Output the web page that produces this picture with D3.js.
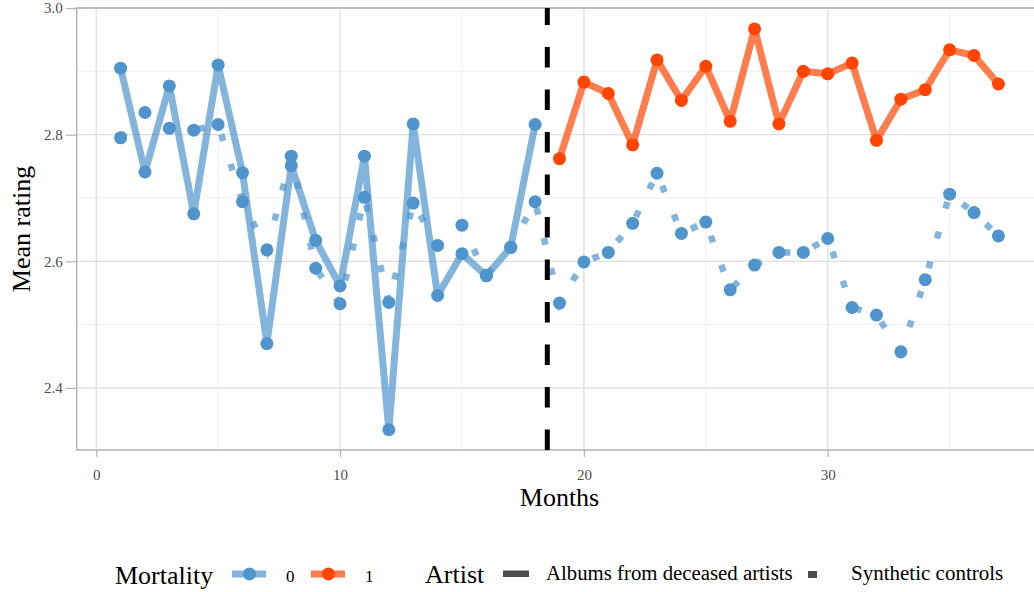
<!DOCTYPE html>
<html>
<head>
<meta charset="utf-8">
<script src="https://cdn.jsdelivr.net/npm/d3@7"></script>
<style>
  body { margin: 0; background: #fff; }
  svg text { font-family: "Liberation Serif", "DejaVu Serif", serif; }
</style>
</head>
<body>
<svg id="chart" width="1034" height="592"></svg>
<script>
// months before and after the death
var monthsPre = d3.range(1, 19);
var monthsPost = d3.range(19, 38);
var monthsAll = d3.range(1, 38);

// albums from deceased artists, before death (mortality 0)
var deceasedPre = [2.905, 2.741, 2.877, 2.675, 2.910, 2.740, 2.470, 2.751, 2.633,
                   2.561, 2.766, 2.334, 2.817, 2.546, 2.612, 2.577, 2.622, 2.816];
// albums from deceased artists, after death (mortality 1)
var deceasedPost = [2.762, 2.883, 2.865, 2.784, 2.918, 2.854, 2.908, 2.821, 2.967, 2.817,
                    2.900, 2.896, 2.913, 2.791, 2.856, 2.871, 2.934, 2.925, 2.880];
// synthetic controls
var synthetic = [2.795, 2.835, 2.810, 2.807, 2.816, 2.694, 2.618, 2.766, 2.589, 2.533,
                 2.701, 2.535, 2.692, 2.625, 2.657, 2.578, 2.622, 2.694, 2.534, 2.599,
                 2.614, 2.660, 2.739, 2.644, 2.662, 2.555, 2.594, 2.614, 2.614, 2.636,
                 2.527, 2.515, 2.457, 2.571, 2.706, 2.677, 2.640];

var xTicks = [0, 10, 20, 30];
var xMinor = [5, 15, 25, 35];
var yTicks = [2.4, 2.6, 2.8, 3.0];
var yMinor = [2.5, 2.7, 2.9];
var deathMonth = 18.5;

var mortalityLevels = ["0", "1"];
var artistLevels = ["Albums from deceased artists", "Synthetic controls"];

var blue = "#4F94CD", orange = "#FF4500";
var panel = {left: 76.7, right: 1042.3, top: 8, bottom: 450};

var svg = d3.select("#chart");

var x = d3.scaleLinear().domain([-0.8, 38.8]).range([panel.left, panel.right]);
var y = d3.scaleLinear().domain([2.302, 3.0]).range([panel.bottom, panel.top]);

var defs = svg.append("defs");
defs.append("clipPath").attr("id", "clip")
  .append("rect")
  .attr("x", panel.left).attr("y", panel.top)
  .attr("width", panel.right - panel.left).attr("height", panel.bottom - panel.top);

// grid
var grid = svg.append("g");
grid.selectAll(".xminor").data(xMinor).enter().append("line")
  .attr("x1", d => x(d)).attr("x2", d => x(d))
  .attr("y1", panel.top).attr("y2", panel.bottom)
  .attr("stroke", "#ebebeb").attr("stroke-width", 0.8);
grid.selectAll(".yminor").data(yMinor).enter().append("line")
  .attr("y1", d => y(d)).attr("y2", d => y(d))
  .attr("x1", panel.left).attr("x2", panel.right)
  .attr("stroke", "#ebebeb").attr("stroke-width", 0.8);
grid.selectAll(".xmajor").data(xTicks).enter().append("line")
  .attr("x1", d => x(d)).attr("x2", d => x(d))
  .attr("y1", panel.top).attr("y2", panel.bottom)
  .attr("stroke", "#dedede").attr("stroke-width", 1.3);
grid.selectAll(".ymajor").data(yTicks).enter().append("line")
  .attr("y1", d => y(d)).attr("y2", d => y(d))
  .attr("x1", panel.left).attr("x2", panel.right)
  .attr("stroke", "#dedede").attr("stroke-width", 1.3);

// axes
var xAxis = d3.axisBottom(x).tickValues(xTicks).tickSize(7).tickPadding(12).tickFormat(d3.format("d"));
var yAxis = d3.axisLeft(y).tickValues(yTicks).tickSize(11).tickPadding(3).tickFormat(d3.format(".1f"));

var gx = svg.append("g").attr("transform", "translate(0," + panel.bottom + ")").call(xAxis);
var gy = svg.append("g").attr("transform", "translate(" + panel.left + ",0)").call(yAxis);
[gx, gy].forEach(function(g) {
  g.select(".domain").remove();
  g.selectAll(".tick line").attr("stroke", "#b3b3b3").attr("stroke-width", 1.2);
  g.selectAll(".tick text").attr("fill", "#4d4d4d").style("font-size", "15px")
    .style("font-family", "'Liberation Serif', serif");
});

// panel border
svg.append("rect")
  .attr("x", panel.left).attr("y", panel.top)
  .attr("width", panel.right - panel.left).attr("height", panel.bottom - panel.top)
  .attr("fill", "none").attr("stroke", "#b3b3b3").attr("stroke-width", 1.5);

var plot = svg.append("g").attr("clip-path", "url(#clip)");

var line = d3.line().x(d => x(d[0])).y(d => y(d[1]));

var synthData = d3.zip(monthsAll, synthetic);
var prePts = d3.zip(monthsPre, deceasedPre);
var postPts = d3.zip(monthsPost, deceasedPost);

plot.append("path").datum(synthData)
  .attr("d", line).attr("fill", "none")
  .attr("stroke", blue).attr("stroke-opacity", 0.7)
  .attr("stroke-width", 6.5).attr("stroke-dasharray", "7,24");

plot.append("path").datum(prePts)
  .attr("d", line).attr("fill", "none")
  .attr("stroke", blue).attr("stroke-opacity", 0.7)
  .attr("stroke-width", 7).attr("stroke-linejoin", "round");

plot.append("path").datum(postPts)
  .attr("d", line).attr("fill", "none")
  .attr("stroke", orange).attr("stroke-opacity", 0.7)
  .attr("stroke-width", 7).attr("stroke-linejoin", "round");

plot.selectAll(".synpt").data(synthData).enter().append("circle")
  .attr("cx", d => x(d[0])).attr("cy", d => y(d[1])).attr("r", 6.5).attr("fill", blue);
plot.selectAll(".prept").data(prePts).enter().append("circle")
  .attr("cx", d => x(d[0])).attr("cy", d => y(d[1])).attr("r", 6.5).attr("fill", blue);
plot.selectAll(".postpt").data(postPts).enter().append("circle")
  .attr("cx", d => x(d[0])).attr("cy", d => y(d[1])).attr("r", 6.5).attr("fill", orange);

// death line, dashes start at the bottom like R does
plot.append("line")
  .attr("x1", x(deathMonth)).attr("x2", x(deathMonth))
  .attr("y1", panel.bottom).attr("y2", panel.top)
  .attr("stroke", "#000").attr("stroke-width", 5)
  .attr("stroke-dasharray", "20.5,22");

// titles
svg.append("text")
  .attr("x", (panel.left + panel.right) / 2).attr("y", 506)
  .attr("text-anchor", "middle").style("font-size", "26px").text("Months");

svg.append("text")
  .attr("transform", "translate(30,229) rotate(-90)")
  .attr("text-anchor", "middle").style("font-size", "26px").text("Mean rating");

// legend
var leg = svg.append("g");
leg.append("text").attr("x", 115).attr("y", 584).style("font-size", "26px").text("Mortality");

var mortKeys = [{x: 232, c: blue}, {x: 311, c: orange}];
mortKeys.forEach(function(k, i) {
  leg.append("line").attr("x1", k.x).attr("x2", k.x + 34).attr("y1", 574).attr("y2", 574)
    .attr("stroke", k.c).attr("stroke-opacity", 0.7).attr("stroke-width", 7);
  leg.append("circle").attr("cx", k.x + 17.5).attr("cy", 574).attr("r", 6.5).attr("fill", k.c);
  leg.append("text").attr("x", k.x + 54).attr("y", 582).style("font-size", "17px")
    .attr("fill", "#000").text(mortalityLevels[i]);
});

leg.append("text").attr("x", 425).attr("y", 583).style("font-size", "26px").text("Artist");

leg.append("rect").attr("x", 503).attr("y", 570.5).attr("width", 26).attr("height", 6.5).attr("fill", "#4d4d4d");
leg.append("text").attr("x", 546).attr("y", 580).style("font-size", "20.8px").text(artistLevels[0]);

leg.append("rect").attr("x", 808).attr("y", 571).attr("width", 9).attr("height", 7).attr("fill", "#4d4d4d");
leg.append("text").attr("x", 851).attr("y", 580).style("font-size", "21px").text(artistLevels[1]);
</script>
</body>
</html>
